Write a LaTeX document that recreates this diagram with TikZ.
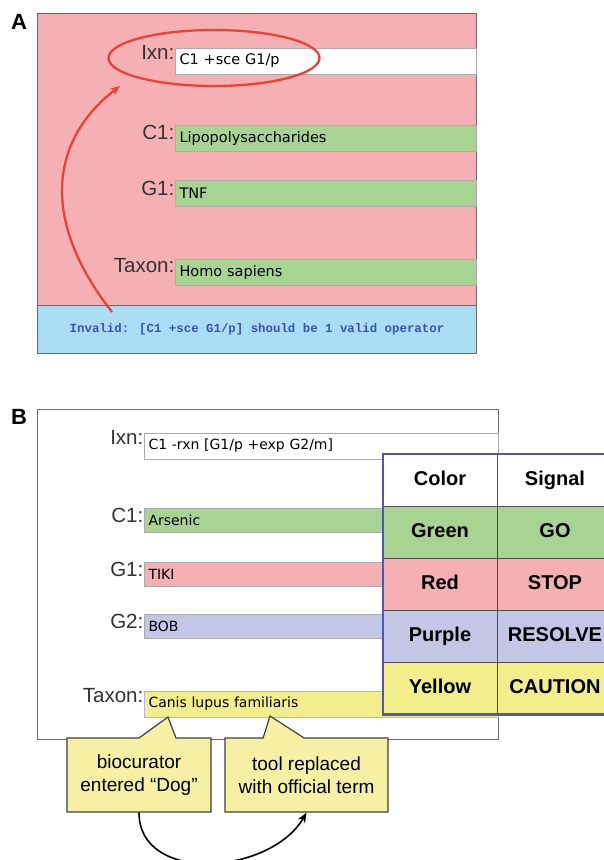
\documentclass[tikz,border=0pt]{standalone}
\usepackage{fontspec}
\setmainfont{Liberation Sans}
\newfontfamily\boxfont{DejaVu Sans}
\newfontfamily\msgfont{Liberation Mono}
\usetikzlibrary{shapes.geometric,shapes.callouts,positioning,arrows.meta}
\definecolor{errpink}{HTML}{F4B0B3}
\definecolor{okgreen}{HTML}{A7D492}
\definecolor{msgblue}{HTML}{A9DDF4}
\definecolor{lilac}{HTML}{C3C6E4}
\definecolor{warnyellow}{HTML}{F3EE8C}
\definecolor{notepad}{HTML}{F5F0A3}
\definecolor{framegray}{HTML}{6A6A6A}
\definecolor{tableblue}{HTML}{4F57B3}
\definecolor{ringred}{HTML}{EE4135}
\definecolor{msgtext}{HTML}{3F4FB5}
\begin{document}
\begin{tikzpicture}[>={Stealth[length=10pt,width=8pt]},x=1pt,y=-1pt,
	panel/.style={draw=framegray,line width=1pt,anchor=north west,inner sep=0pt},
	field/.style={draw=gray!65,line width=1pt,anchor=west,inner xsep=4pt,inner ysep=0pt,minimum height=26pt,align=left},
	fieldA/.style={field,minimum width=301pt,text width=293pt,font=\boxfont\fontsize{14.5}{16}\selectfont},
	fieldB/.style={field,minimum width=354pt,text width=346pt,font=\boxfont\fontsize{14}{16}\selectfont},
	fieldlabel/.style={anchor=base east,inner sep=0.5pt,text=black!80,font=\fontsize{20.5}{24}\selectfont},
	cell/.style={draw=black!70,line width=0.8pt,minimum height=52pt,inner sep=0pt,text height=14.5pt,text depth=4pt,font=\bfseries\fontsize{20}{24}\selectfont},
	note/.style={rectangle callout,draw=black!75,line width=1.2pt,fill=notepad,minimum height=74pt,align=center,font=\fontsize{19}{23}\selectfont},
	tag/.style={font=\bfseries\fontsize{22}{24}\selectfont}]
\useasboundingbox (0,0) rectangle (604,860);
\node[tag] (tagA) at (19,22) {A};
\node[panel,fill=errpink,minimum width=439pt,minimum height=292pt] (formA) at (37,13) {};
\node[panel,fill=msgblue,minimum width=439pt,minimum height=48pt,text=msgtext,%
	font=\msgfont\bfseries\fontsize{12.4}{14}\selectfont] (msgA) at (37,305) {Invalid: [C1 +sce G1/p] should be 1 valid operator};
\node[fieldA,fill=white] (ixnA) at (175,61) {C1 +sce G1/p};
\node[fieldA,fill=okgreen] (c1A) at (175,138) {Lipopolysaccharides};
\node[fieldA,fill=okgreen] (g1A) at (175,193) {TNF};
\node[fieldA,fill=okgreen] (taxA) at (175,272) {Homo sapiens};
\node[fieldlabel] at ([yshift=5pt]ixnA.base west) {Ixn:};
\node[fieldlabel] at ([yshift=3pt]c1A.base west) {C1:};
\node[fieldlabel] at ([yshift=3pt]g1A.base west) {G1:};
\node[fieldlabel] at ([yshift=4pt]taxA.base west) {Taxon:};
\node[draw=ringred,line width=2.3pt,ellipse,minimum width=211pt,minimum height=56pt] (ring) at (214,58) {};
\coordinate (aim) at (120,86);
\draw[->,ringred,line width=2.3pt] ([xshift=75pt,yshift=-7pt]msgA.north west) .. controls (40,220) and (50,140) .. (aim);
\node[tag] (tagB) at (19,417) {B};
\node[panel,fill=white,minimum width=461pt,minimum height=330pt] (formB) at (37,409) {};
\node[fieldB,fill=white] (ixnB) at (144,446) {C1 -rxn [G1/p +exp G2/m]};
\node[fieldB,fill=okgreen,minimum height=24pt] (c1B) at (144,520) {Arsenic};
\node[fieldB,fill=errpink,minimum height=24pt] (g1B) at (144,574) {TIKI};
\node[fieldB,fill=lilac,minimum height=24pt] (g2B) at (144,626) {BOB};
\node[fieldB,fill=warnyellow,draw=gray!50!blue!40] (taxB) at (144,704) {Canis lupus familiaris};
\node[fieldlabel] at ([yshift=5pt]ixnB.base west) {Ixn:};
\node[fieldlabel] at ([yshift=3pt]c1B.base west) {C1:};
\node[fieldlabel] at ([yshift=3pt]g1B.base west) {G1:};
\node[fieldlabel] at ([yshift=3pt]g2B.base west) {G2:};
\node[fieldlabel] at ([yshift=5pt]taxB.base west) {Taxon:};
\coordinate (typed) at (168,717);
\coordinate (fixed) at (270,716);
\node[note,minimum width=144pt,callout absolute pointer=(typed),callout pointer width=37pt] (cur) at (139,775) {biocurator\\entered “Dog”};
\node[note,minimum width=163pt,callout absolute pointer=(fixed),callout pointer width=41pt] (rep) at (306.5,775) {tool replaced\\with official term};
\draw[->,line width=1.6pt] (cur.south) to[out=-90,in=-120,looseness=1.1] (rep.south);
\node[cell,fill=white,minimum width=114pt] (colh) at (440,480) {Color};
\node[cell,fill=white,minimum width=116pt] (sigh) at (555,480) {Signal};
\foreach \clr/\cname/\sig [count=\r] in {okgreen/Green/GO,errpink/Red/STOP,lilac/Purple/RESOLVE,warnyellow/Yellow/CAUTION}{
	\node[cell,fill=\clr,minimum width=114pt] (col\r) at (440,480+52*\r) {\cname};
	\node[cell,fill=\clr,minimum width=116pt] (sig\r) at (555,480+52*\r) {\sig};
}
\draw[tableblue,line width=2.2pt] (colh.north west) rectangle (sig4.south east);
\end{tikzpicture}
\end{document}
